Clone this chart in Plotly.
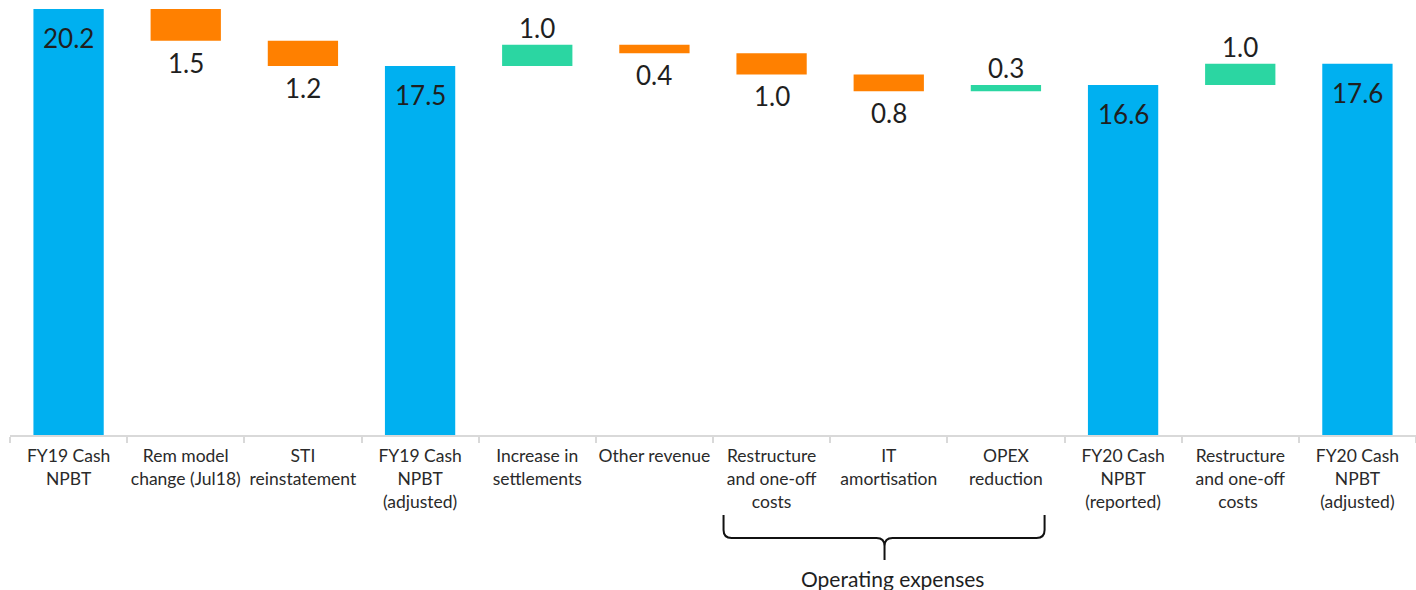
import plotly.graph_objects as go

categories = [
    "FY19 Cash<br>NPBT",
    "Rem model<br>change (Jul18)",
    "STI<br>reinstatement",
    "FY19 Cash<br>NPBT<br>(adjusted)",
    "Increase in<br>settlements",
    "Other revenue",
    "Restructure<br>and one-off<br>costs",
    "IT<br>amortisation",
    "OPEX<br>reduction",
    "FY20 Cash<br>NPBT<br>(reported)",
    "Restructure<br>and one-off<br>costs ",
    "FY20 Cash<br>NPBT<br>(adjusted)",
]
measures = ["absolute", "relative", "relative", "total", "relative", "relative",
            "relative", "relative", "relative", "total", "relative", "total"]
values = [20.2, -1.5, -1.2, 0, 1.0, -0.4, -1.0, -0.8, 0.3, 0, 1.0, 0]

BLUE = "#00B0F0"
ORANGE = "#FF8000"
GREEN = "#2BD6A2"
TXT = "#1f1f1f"
FONT = "Lato"

# cumulative values for labels
ends = []
run = 0.0
for m, v in zip(measures, values):
    if m == "absolute":
        run = v
    elif m == "relative":
        run = run + v
    ends.append(run)

fig = go.Figure(go.Waterfall(
    x=categories, y=values, measure=measures,
    base=0,
    width=0.6,
    increasing=dict(marker=dict(color=GREEN)),
    decreasing=dict(marker=dict(color=ORANGE)),
    totals=dict(marker=dict(color=BLUE)),
    connector=dict(visible=False),
    hoverinfo="x+y",
))

annotations = []
for i, (c, m, v) in enumerate(zip(categories, measures, values)):
    if m in ("absolute", "total"):
        txt, ys = f"{ends[i]:.1f}", -29
    elif v < 0:
        txt, ys = f"{abs(v):.1f}", -22
    else:
        txt, ys = f"{abs(v):.1f}", 17
    annotations.append(dict(x=c, y=ends[i], text=txt, showarrow=False,
                            yshift=ys, yanchor="middle", xanchor="center",
                            font=dict(family=FONT, size=26, color=TXT)))

# bracket under operating expenses (paper coords derived from category indices)
n = len(categories)
W_PX, H_PX = 1406.0, 430.0
left = (6 + 0.09) / n
right = (9 - 0.17) / n
center = 7.5 / n - 0.003
ytop, ymid, ybot = -80 / H_PX, -103 / H_PX, -125 / H_PX
rx, ry = 8 / W_PX, 8 / H_PX
path = (f"M {left},{ytop} L {left},{ymid + ry} Q {left},{ymid} {left + rx},{ymid} "
        f"L {center - rx},{ymid} Q {center},{ymid} {center},{ymid - ry} L {center},{ybot} "
        f"M {center},{ymid - ry} Q {center},{ymid} {center + rx},{ymid} "
        f"L {right - rx},{ymid} Q {right},{ymid} {right},{ymid + ry} L {right},{ytop}")
shapes = [dict(type="path", xref="paper", yref="paper", path=path,
               line=dict(color="#111111", width=2))]
annotations.append(dict(xref="paper", yref="paper", x=center + 0.006, y=-143 / H_PX,
                        text="Operating expenses", showarrow=False,
                        xanchor="center", yanchor="middle",
                        font=dict(family=FONT, size=21, color=TXT)))

fig.update_layout(
    width=1416, height=590,
    margin=dict(l=10, r=0, t=5, b=155, autoexpand=False),
    paper_bgcolor="white", plot_bgcolor="white",
    showlegend=False,
    font=dict(family=FONT, color=TXT),
    annotations=annotations,
    shapes=shapes,
    xaxis=dict(type="category", tickson="boundaries", ticks="outside", ticklen=6,
               tickangle=0, automargin=False, ticklabelstandoff=4,
               tickcolor="#d9d9d9", tickwidth=1.5, showline=True, linecolor="#d9d9d9",
               linewidth=2, showgrid=False, tickfont=dict(family=FONT, size=17.5, color="#2a2a2a")),
    yaxis=dict(range=[0, 20.39], visible=False, showgrid=False, zeroline=False),
)

fig.write_html("out.html")
